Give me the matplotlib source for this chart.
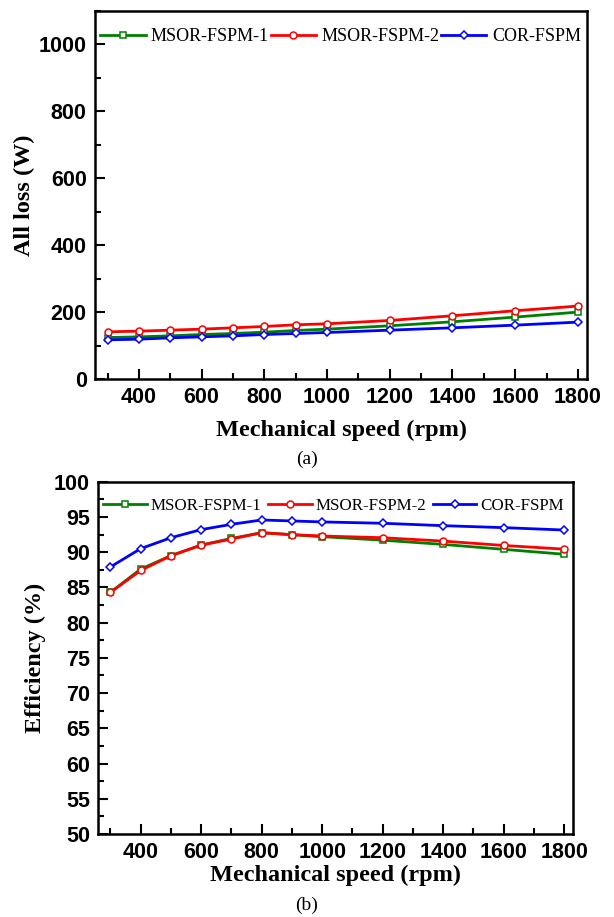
import matplotlib
matplotlib.use("Agg")
import matplotlib.pyplot as plt
from matplotlib.ticker import MultipleLocator

speed = [300, 400, 500, 600, 700, 800, 900, 1000, 1200, 1400, 1600, 1800]

loss_msor1 = [124, 126, 129, 133, 136, 140, 145, 149, 159, 171, 185, 200]
loss_msor2 = [141, 143, 146, 149, 153, 157, 162, 165, 175, 189, 204, 218]
loss_cor = [117, 119, 123, 126, 129, 133, 136, 139, 146, 153, 161, 170]

eff_msor1 = [84.3, 87.6, 89.5, 91.0, 91.95, 92.76, 92.48, 92.2, 91.7, 91.1, 90.4, 89.7]
eff_msor2 = [84.3, 87.4, 89.5, 91.0, 91.86, 92.76, 92.48, 92.29, 92.05, 91.57, 90.95, 90.43]
eff_cor = [87.9, 90.5, 92.05, 93.2, 93.95, 94.57, 94.43, 94.29, 94.1, 93.76, 93.48, 93.14]

labels = ["MSOR-FSPM-1", "MSOR-FSPM-2", "COR-FSPM"]
colors = ["#008000", "#ff0000", "#0000ff"]
markers = ["s", "o", "D"]

SERIF = "Liberation Serif"
SANS = "Liberation Sans"

fig = plt.figure(figsize=(6.14, 9.17), dpi=100)
ax1 = fig.add_axes([0.1547, 0.5867, 0.8018, 0.4013])
ax2 = fig.add_axes([0.1601, 0.0905, 0.7736, 0.3842])


def style(ax, series, ylabel, ylim, ymaj, ymin, xpad, ypad, leg_y, leg_size,
          colsp, textpad, handle):
    for lab, c, m, ys in zip(labels, colors, markers, series):
        ax.plot(speed, ys, color=c, lw=2.0, marker=m,
                ms=5 if m != "D" else 4.4, mfc="white", mec=c, mew=1.1,
                label=lab)
    ax.set_xlim(260, 1830)
    ax.set_ylim(*ylim)
    ax.xaxis.set_major_locator(MultipleLocator(200))
    ax.xaxis.set_minor_locator(MultipleLocator(100))
    ax.yaxis.set_major_locator(MultipleLocator(ymaj))
    ax.yaxis.set_minor_locator(MultipleLocator(ymin))
    ax.tick_params(which="both", direction="in", top=False, right=False,
                   width=1.5)
    ax.tick_params(which="major", length=7)
    ax.tick_params(which="minor", length=4)
    for lbl in ax.get_xticklabels() + ax.get_yticklabels():
        lbl.set_fontfamily(SANS)
        lbl.set_fontweight("bold")
        lbl.set_fontsize(15.5)
    ax.tick_params(axis="both", pad=6)
    for s in ax.spines.values():
        s.set_linewidth(1.8)
    ax.set_xlabel("Mechanical speed (rpm)", fontfamily=SERIF,
                  fontweight="bold", fontsize=17.5, labelpad=xpad)
    ax.set_ylabel(ylabel, fontfamily=SERIF, fontweight="bold", fontsize=17.5,
                  labelpad=ypad)
    ax.legend(loc="upper left", bbox_to_anchor=(0.0, leg_y), ncol=3,
              frameon=False, prop={"family": SERIF, "size": leg_size},
              handlelength=handle, handletextpad=textpad, columnspacing=colsp,
              borderaxespad=0.2, borderpad=0.1)


style(ax1, [loss_msor1, loss_msor2, loss_cor], "All loss (W)", (0, 1100),
      200, 100, xpad=8, ypad=2.5, leg_y=0.968, leg_size=13, colsp=0.1,
      textpad=0.3, handle=2.5)
style(ax2, [eff_msor1, eff_msor2, eff_cor], "Efficiency (%)", (50, 100),
      5, 2.5, xpad=1, ypad=6, leg_y=0.968, leg_size=12.2, colsp=0.4,
      textpad=0.25, handle=2.55)

fig.text(0.5, 1 - 459 / 917, "(a)", ha="center", va="center",
         fontfamily=SERIF, fontsize=14)
fig.text(0.5, 1 - 905 / 917, "(b)", ha="center", va="center",
         fontfamily=SERIF, fontsize=14)

fig.savefig("out.png", dpi=100)
